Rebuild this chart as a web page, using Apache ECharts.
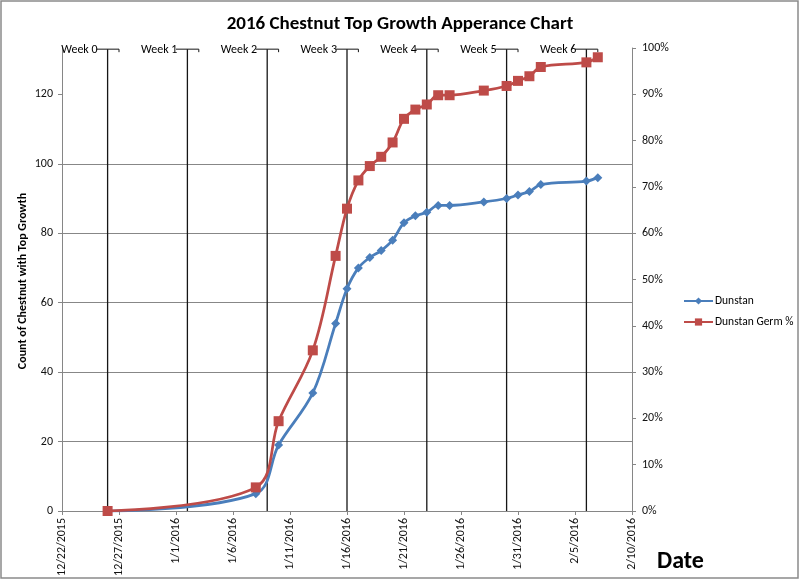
<!DOCTYPE html>
<html>
<head>
<meta charset="utf-8">
<script src="https://cdn.jsdelivr.net/npm/echarts@6/dist/echarts.min.js"></script>
<style>
html,body{margin:0;padding:0;background:#fff;}
#chart{width:800px;height:584px;}
</style>
</head>
<body>
<div id="chart"></div>
<script>
const FONT = 'Carlito, Lato, "Open Sans", sans-serif';

const xStartDate = '2015-12-22';
const xTickLabels = ['12/22/2015','12/27/2015','1/1/2016','1/6/2016','1/11/2016','1/16/2016','1/21/2016','1/26/2016','1/31/2016','2/5/2016','2/10/2016'];
const yTicks = [0, 20, 40, 60, 80, 100, 120];
const pctTicks = [0, 10, 20, 30, 40, 50, 60, 70, 80, 90, 100];

const dates = ['2015-12-26','2016-01-08','2016-01-10','2016-01-13','2016-01-15','2016-01-16','2016-01-17','2016-01-18','2016-01-19','2016-01-20','2016-01-21','2016-01-22','2016-01-23','2016-01-24','2016-01-25','2016-01-28','2016-01-30','2016-01-31','2016-02-01','2016-02-02','2016-02-06','2016-02-07'];
const dunstan = [0, 5, 19, 34, 54, 64, 70, 73, 75, 78, 83, 85, 86, 88, 88, 89, 90, 91, 92, 94, 95, 96];
const germPct = [0, 5.1, 19.4, 34.7, 55.1, 65.3, 71.4, 74.5, 76.5, 79.6, 84.7, 86.7, 87.8, 89.8, 89.8, 90.8, 91.8, 92.9, 93.9, 95.9, 96.9, 98.0];

const weekDates = ['2015-12-26','2016-01-02','2016-01-09','2016-01-16','2016-01-23','2016-01-30','2016-02-06'];
const weekLabels = ['Week 0','Week 1','Week 2','Week 3','Week 4','Week 5','Week 6'];
const weekLevel = [133, 133, 133, 133, 133, 133, 133];

function dayOf(s) {
  return Math.round((Date.parse(s + 'T00:00:00Z') - Date.parse(xStartDate + 'T00:00:00Z')) / 86400000);
}

const chart = echarts.init(document.getElementById('chart'), null, {renderer: 'canvas'});

const option = {
  animation: false,
  backgroundColor: '#fff',
  textStyle: {fontFamily: FONT},
  title: {
    text: '2016 Chestnut Top Growth Apperance Chart',
    left: 'center',
    top: 10,
    textStyle: {fontFamily: FONT, fontSize: 19, fontWeight: 'bold', color: '#000'}
  },
  legend: {
    orient: 'vertical',
    left: 678,
    top: 290,
    itemWidth: 29,
    itemHeight: 9,
    itemGap: 9,
    data: ['Dunstan', 'Dunstan Germ %'],
    textStyle: {fontFamily: FONT, fontSize: 11.5, color: '#000', padding: [0,0,0,-3]}
  },
  grid: {left: 62, right: 168, top: 48, bottom: 73, containLabel: false, outerBoundsMode: 'none'},
  xAxis: {
    type: 'value',
    min: 0,
    max: 50,
    interval: 5,
    axisLine: {show: true, lineStyle: {color: '#868686', width: 1}},
    axisTick: {show: true, inside: false, length: 4, lineStyle: {color: '#868686'}},
    splitLine: {show: false},
    axisLabel: {
      rotate: 90,
      margin: 7,
      fontFamily: FONT,
      fontSize: 12,
      color: '#111',
      formatter: function (v) { return xTickLabels[Math.round(v / 5)] || ''; }
    }
  },
  yAxis: [
    {
      type: 'value',
      min: 0,
      max: 120 / 0.9,
      interval: 20,
      axisLine: {show: true, lineStyle: {color: '#868686'}},
      axisTick: {show: true, inside: false, length: 4, lineStyle: {color: '#868686'}, customValues: yTicks},
      axisLabel: {fontFamily: FONT, fontSize: 12, color: '#111', margin: 9,
        formatter: function (v) { return yTicks.indexOf(v) >= 0 ? String(v) : ''; }},
      splitLine: {show: true, showMaxLine: false, lineStyle: {color: '#878787', width: 1}}
    },
    {
      type: 'value',
      min: 0,
      max: 100,
      interval: 10,
      position: 'right',
      axisLine: {show: true, lineStyle: {color: '#868686'}},
      axisTick: {show: true, inside: false, length: 4, lineStyle: {color: '#868686'}},
      axisLabel: {fontFamily: FONT, fontSize: 12, color: '#111', margin: 10,
        formatter: function (v) { return pctTicks.indexOf(v) >= 0 ? v + '%' : ''; }},
      splitLine: {show: false}
    }
  ],
  graphic: [
    {type: 'rect', shape: {x: 1, y: 1, width: 797, height: 577}, style: {fill: 'none', stroke: '#8a8a8a', lineWidth: 1.5}, silent: true, z: 100},
    {type: 'text', x: 23, y: 281, rotation: Math.PI / 2,
      style: {text: 'Count of Chestnut with Top Growth', font: 'bold 12px ' + FONT, fill: '#000', align: 'center', verticalAlign: 'middle'}},
    {type: 'text', x: 657, y: 562,
      style: {text: 'Date', font: 'bold 24px ' + FONT, fill: '#000', align: 'left', verticalAlign: 'middle'}}
  ],
  series: [
    {
      name: 'Weeks',
      type: 'custom',
      clip: false,
      z: 1,
      silent: true,
      data: weekDates.map((w, i) => [dayOf(w), weekLevel[i]]),
      renderItem: function (params, api) {
        const d = api.value(0), v = api.value(1);
        const top = api.coord([d, v]);
        const bot = api.coord([d, 0]);
        const l = api.coord([d - 1, v]);
        const r = api.coord([d + 1, v]);
        return {
          type: 'group',
          children: [
            {type: 'line', shape: {x1: top[0], y1: top[1], x2: bot[0], y2: bot[1]}, style: {stroke: '#161616', lineWidth: 1.3}},
            {type: 'line', shape: {x1: l[0], y1: top[1], x2: r[0], y2: top[1]}, style: {stroke: '#161616', lineWidth: 1}},
            {type: 'line', shape: {x1: r[0], y1: top[1], x2: r[0], y2: top[1] + 3}, style: {stroke: '#161616', lineWidth: 1}},
            {type: 'text', x: top[0] - 10, y: top[1] + 1,
              style: {text: weekLabels[params.dataIndex], font: '12px ' + FONT, fill: '#000', align: 'right', verticalAlign: 'middle'}}
          ]
        };
      }
    },
    {
      name: 'Dunstan',
      type: 'line',
      z: 3,
      smooth: 0.35,
      symbol: 'diamond',
      symbolSize: 9,
      data: dates.map((d, i) => [dayOf(d), dunstan[i]]),
      lineStyle: {color: '#4A7EBB', width: 2.75},
      itemStyle: {color: '#4A7EBB'}
    },
    {
      name: 'Dunstan Germ %',
      type: 'line',
      yAxisIndex: 1,
      z: 4,
      smooth: 0.35,
      symbol: 'rect',
      symbolSize: 10,
      data: dates.map((d, i) => [dayOf(d), germPct[i]]),
      lineStyle: {color: '#BE4B48', width: 2.75},
      itemStyle: {color: '#BE4B48'}
    }
  ]
};
chart.setOption(option);
</script>
</body>
</html>
